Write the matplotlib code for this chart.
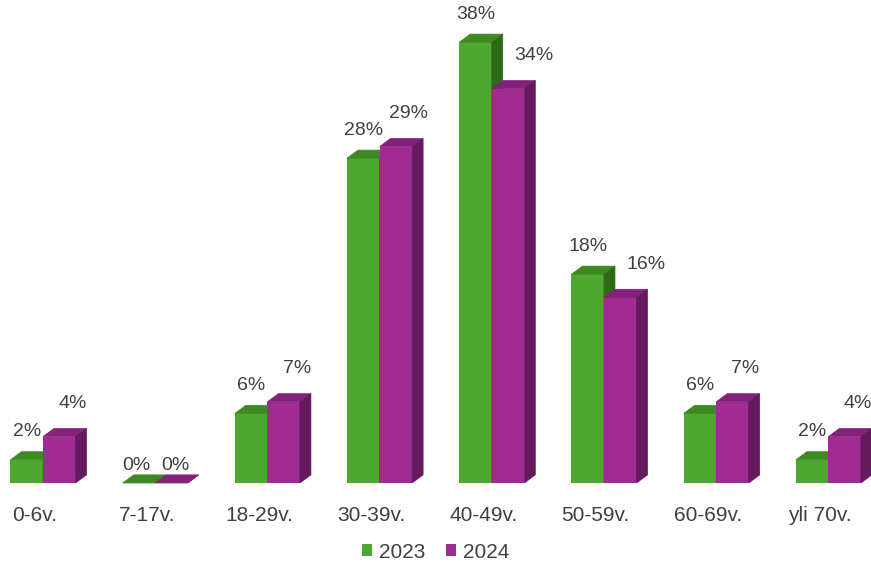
import matplotlib.pyplot as plt
from matplotlib.patches import Polygon, Patch

plt.rcParams['font.family'] = ['Liberation Sans', 'DejaVu Sans']

categories = ['0-6v.', '7-17v.', '18-29v.', '30-39v.', '40-49v.', '50-59v.', '60-69v.', 'yli 70v.']
series_names = ['2023', '2024']
values_2023 = [2, 0, 6, 28, 38, 18, 6, 2]
values_2024 = [4, 0, 7, 29, 34, 16, 7, 4]

# front, top, side colours
colors = {
    '2023': ('#4EA72E', '#3E8A22', '#2F6A1A'),
    '2024': ('#A02B93', '#84217A', '#651A5D'),
}

text_color = '#404040'
width = 0.29
dx = 0.098   # depth in x (category units)
dy = 0.7     # depth in y (percent units)
px_x = 1 / 112.2   # one pixel in category units
px_y = 1 / 11.6    # one pixel in percent units

fig = plt.figure(figsize=(8.71, 5.7), dpi=100)
ax = fig.add_axes([0, 0, 1, 1])
ax.set_xlim(-0.383, 7.38)
ax.set_ylim(-7.5, 41.64)
ax.axis('off')


def draw_bar3d(x0, h, name):
    front, top, side = colors[name]
    ax.bar(x0, h, width=width, align='edge', color=front, linewidth=0, zorder=2)
    ax.add_patch(Polygon([(x0, h), (x0 + dx, h + dy), (x0 + width + dx, h + dy), (x0 + width, h)],
                         closed=True, facecolor=top, edgecolor=top, linewidth=0.5, zorder=2))
    ax.add_patch(Polygon([(x0 + width, 0), (x0 + width + dx, dy), (x0 + width + dx, h + dy), (x0 + width, h)],
                         closed=True, facecolor=side, edgecolor=side, linewidth=0.5, zorder=2))


for i, cat in enumerate(categories):
    g = values_2023[i]
    p = values_2024[i]
    xg = i - width
    xp = i
    draw_bar3d(xg, g, '2023')
    draw_bar3d(xp, p, '2024')

    # value labels
    if g == 0:
        gx, gy = -3, 18
    else:
        gx, gy = 0, 28
    if p == 0:
        pxs, pys = 4, 18
    elif g > p:
        pxs, pys = 26, 33
    else:
        pxs, pys = 13, 33
    ax.text(xg + width / 2 + gx * px_x, g + gy * px_y, f'{g}%', ha='center', va='center',
            fontsize=14, color=text_color, zorder=3)
    ax.text(xp + width / 2 + pxs * px_x, p + pys * px_y, f'{p}%', ha='center', va='center',
            fontsize=14, color=text_color, zorder=3)
    ax.text(i - 0.075, -2.8, cat, ha='center', va='center', fontsize=15, color=text_color)

handles = [Patch(facecolor=colors[n][0], edgecolor='none') for n in series_names]
fig.legend(handles, series_names, loc='center', bbox_to_anchor=(0.5, 1 - 552 / 570), ncol=2,
           frameon=False, fontsize=15, labelcolor=text_color, handlelength=0.5, handleheight=0.5,
           handletextpad=0.3, columnspacing=1.0)

fig.savefig('out.png', dpi=100)
